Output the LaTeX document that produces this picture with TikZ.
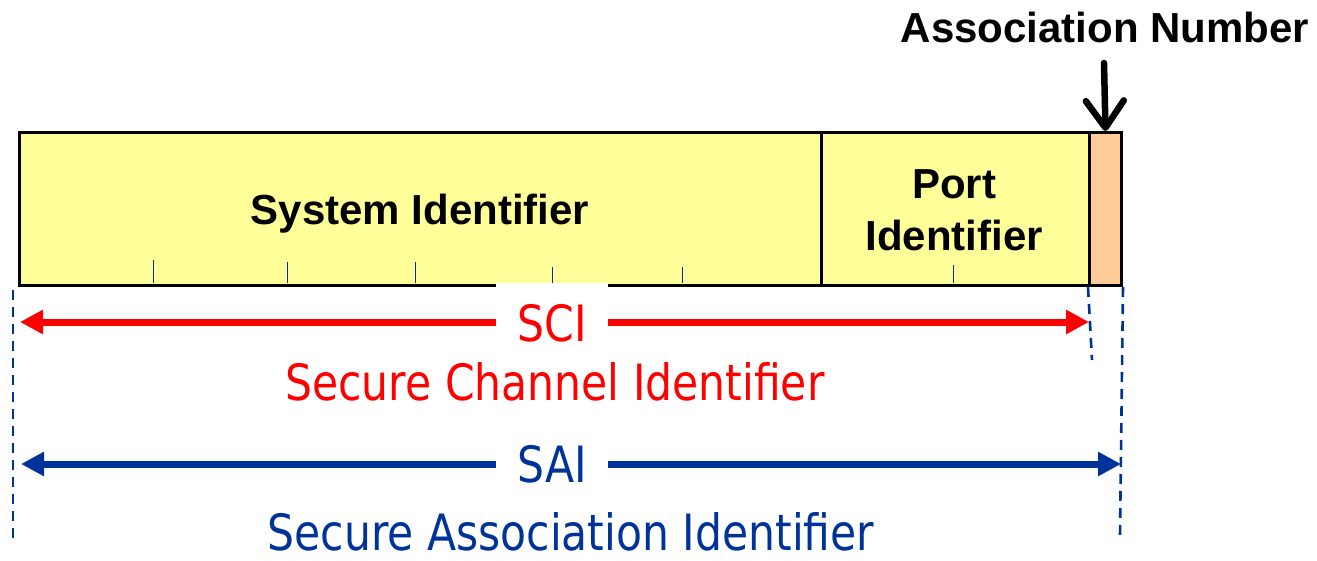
\documentclass[tikz,border=0pt]{standalone}
\usepackage{fontspec}
\setmainfont{Liberation Sans}
\newfontfamily\labelfont[FakeStretch=0.85]{DejaVu Sans}
\usetikzlibrary{arrows.meta}
\definecolor{fieldyellow}{RGB}{255,255,153}
\definecolor{anorange}{RGB}{255,204,153}
\definecolor{saiblue}{RGB}{0,51,153}
\definecolor{scired}{RGB}{255,0,0}
\begin{document}
\begin{tikzpicture}[x=1pt,y=-1pt,
  field/.style={draw=black,line width=3pt,fill=fieldyellow,anchor=north west,
    inner sep=0pt,minimum height=153pt},
  tickmark/.style={draw=saiblue,line width=1pt},
  guide/.style={draw=saiblue,line width=2.6pt,dash pattern=on 10pt off 7pt},
  span/.style={line width=7pt,{Triangle[length=23pt,width=23pt]}-{Triangle[length=23pt,width=23pt]}},
  bigtitle/.style={font=\fontsize{42}{50}\selectfont\bfseries,anchor=base,inner sep=0pt},
  tag/.style={font=\labelfont\fontsize{50}{60}\selectfont,fill=white,
    minimum width=112pt,minimum height=81pt,inner sep=0pt},
  caption/.style={font=\labelfont\fontsize{50}{60}\selectfont,anchor=base,inner sep=0pt}]
\useasboundingbox (0,0) rectangle (1317,560);

% the three fields of the identifier
\node[field,minimum width=802pt] (sys) at (18,131) {};
\node[field,minimum width=268pt] (port) at (820,131) {};
\node[field,fill=anorange,minimum width=32pt] (an) at (1088,131) {};

\node[bigtitle] (systxt) at (420,224) {System Identifier};
\node[bigtitle] (porttxt1) at (954,198) {Port};
\node[bigtitle] (porttxt2) at (954,250) {Identifier};

% byte ticks along the bottom edge
\foreach \tx/\ty in {153/260,287/262,415/262,552/267,682/267,953/265}
  \draw[tickmark] (\tx,\ty) -- (\tx,282.5);

% association number pointer
\node[bigtitle] (antxt) at (1105,42) {Association Number};
\coordinate (anTop) at (1104,63);
\draw[line width=6.5pt,line cap=round,-{Straight Barb[length=27pt,width=38pt,round]}]
  (anTop) -- (an.north);

% extent guides
\coordinate (gL1) at (13,290);
\coordinate (gL2) at (13,545);
\coordinate (gM2) at (1092,360);
\coordinate (gR2) at (1120,535);
\draw[guide] (gL1) -- (gL2);
\draw[guide] (an.south west) -- (gM2);
\draw[guide] (an.south east) -- (gR2);

% SCI span
\coordinate (sciL) at (20,322);
\coordinate (sciR) at (1089,322);
\draw[span,scired] (sciL) -- (sciR);
\node[tag,text=scired] (sci) at (552,323.5) {SCI};
\node[caption,text=scired] (scitxt) at (555,400) {Secure Channel Identifier};

% SAI span
\coordinate (saiL) at (21,464);
\coordinate (saiR) at (1121,464);
\draw[span,saiblue] (saiL) -- (saiR);
\node[tag,text=saiblue,minimum height=60pt] (sai) at (552,464.5) {SAI};
\node[caption,text=saiblue] (saitxt) at (571,550) {Secure Association Identifier};
\end{tikzpicture}
\end{document}
